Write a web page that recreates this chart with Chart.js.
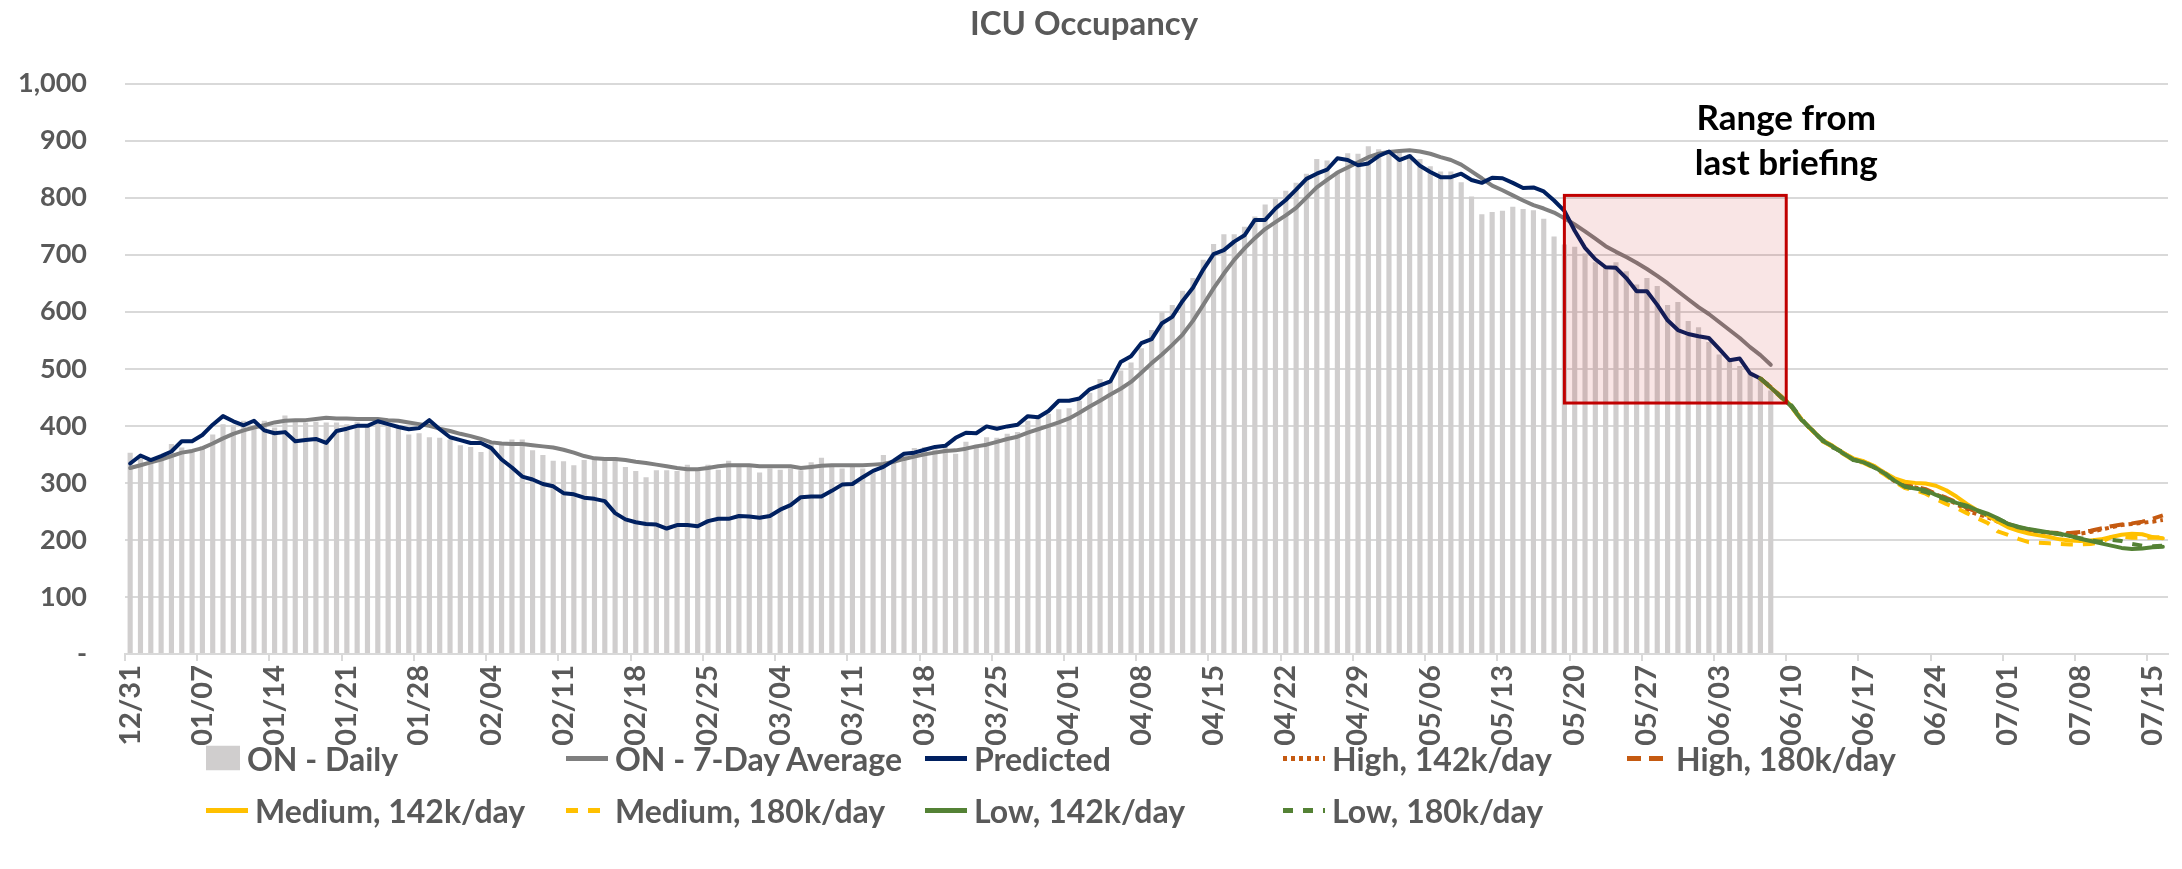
<!DOCTYPE html>
<html>
<head>
<meta charset="utf-8">
<script src="https://cdn.jsdelivr.net/npm/chart.js@4.4.0/dist/chart.umd.min.js"></script>
<style>
  html, body { margin: 0; padding: 0; background: #ffffff; }
  #wrap { position: relative; width: 2182px; height: 869px; overflow: hidden; }
  #c { position: absolute; left: 0; top: 0; }
  #legend { position: absolute; left: 0; top: 0; width: 2182px; height: 869px; pointer-events: none;
            font-family: Lato, "Open Sans", sans-serif; font-weight: 700; color: #595959; font-size: 32px; }
  .li { position: absolute; display: flex; align-items: center; white-space: nowrap; transform: translateY(-50%); }
  .li svg { flex: none; }
  .li span { margin-left: 7px; }
</style>
</head>
<body>
<div id="wrap">
  <canvas id="c" width="2182" height="869"></canvas>
  <div id="legend"></div>
</div>
<script>
// ---------- categories (daily, 12/31 .. 07/16) ----------
const monthSpans = [['12',31,31],['01',1,31],['02',1,28],['03',1,31],['04',1,30],['05',1,31],['06',1,30],['07',1,16]];
const categories = [];
monthSpans.forEach(([m, a, b]) => { for (let d = a; d <= b; d++) categories.push(m + '/' + String(d).padStart(2, '0')); });
const tickEvery = 7;

// ---------- y axis ----------
const yMin = 0, yMax = 1000, yStep = 100;

// ---------- observed series (12/31 .. 06/08) ----------
const onDaily = [
  353,347,339,344,368,362,358,364,385,403,
  402,409,397,409,397,418,408,406,407,406,
  406,403,407,403,409,402,397,385,387,380,
  379,376,366,363,354,368,370,376,376,357,
  349,339,338,331,340,342,342,345,328,321,
  310,322,322,321,332,322,332,323,339,328,
  328,318,325,323,325,322,336,344,328,325,
  330,325,318,349,337,347,361,363,359,363,
  351,372,367,380,379,386,389,409,414,421,
  429,431,444,458,482,479,497,511,536,568,
  599,612,637,659,691,719,736,736,749,767,
  788,798,812,826,842,868,865,846,878,877,
  890,885,883,881,876,868,855,846,846,827,
  802,771,775,777,784,780,778,763,732,718,
  714,702,687,680,687,671,648,659,645,612,
  617,584,573,547,525,514,505,492,484,462
];
const on7DayAvg = [
  326,331,336,341,347,353,356,361,369,378,
  386,392,397,401,406,409,410,410,412,414,
  413,413,412,412,412,410,409,406,403,400,
  395,391,386,382,377,371,369,368,368,366,
  364,362,358,353,347,343,342,342,340,337,
  335,332,329,326,324,324,326,329,331,331,
  331,329,329,329,329,326,328,330,331,331,
  331,331,332,333,337,342,346,350,353,356,
  357,360,364,367,372,377,381,388,394,400,
  406,413,423,434,444,455,465,477,493,510,
  525,542,560,584,612,641,667,691,711,729,
  745,757,769,782,800,818,831,844,853,862,
  871,877,880,882,883,881,877,871,866,858,
  846,834,821,813,804,795,787,781,774,764,
  753,741,728,715,705,696,686,675,663,650,
  636,622,608,596,582,568,554,538,524,507
];
// ---------- predicted (12/31 .. 06/07) ----------
const predicted = [
  334,348,340,347,355,373,373,384,402,417,
  408,401,409,392,387,389,373,375,377,370,
  391,395,400,400,408,403,398,394,396,410,
  394,380,375,370,370,361,341,327,311,306,
  298,294,282,280,274,272,268,247,236,231,
  228,227,220,226,226,224,233,237,237,242,
  241,239,242,253,261,275,276,276,286,297,
  298,310,321,328,339,351,353,358,363,365,
  379,388,387,399,395,399,402,417,415,426,
  444,444,448,464,471,478,512,522,545,552,
  580,591,619,642,674,701,708,723,734,761,
  761,781,796,814,833,842,849,869,866,857,
  860,873,881,866,873,856,845,836,836,842,
  831,826,835,834,826,817,818,811,795,777,
  742,712,692,678,677,659,636,636,612,585,
  568,561,557,554,535,515,518,492,483
];
// ---------- scenario projections (06/07 .. 07/16) ----------
const projectionStart = '06/07';
const high142 = [483,467,451,434,410,393,374,364,352,341,336,328,317,303,296,292,288,280,272,263,252,245,240,232,225,220,216,214,212,211,210,211,214,218,222,226,228,230,232,235];
const high180 = [483,468,452,435,411,392,375,363,353,342,337,329,318,305,297,293,289,281,274,266,256,249,243,236,228,222,218,215,213,212,212,214,216,220,224,227,229,232,237,243];
const med142  = [483,467,452,435,411,393,375,365,353,343,338,330,318,308,302,300,299,295,287,276,263,252,243,232,222,216,211,208,205,201,199,198,199,201,205,209,211,210,205,203];
const med180  = [483,466,450,433,409,392,373,363,351,340,335,326,315,302,291,287,281,272,263,256,247,238,230,215,209,202,196,195,194,193,192,192,193,196,205,206,204,204,204,205];
const low142  = [483,467,451,434,410,393,374,364,352,341,336,328,317,304,293,290,287,279,272,265,260,252,246,238,228,223,219,216,213,211,207,202,198,194,190,186,184,185,187,188];
const low180  = [483,468,450,436,412,391,376,362,354,340,337,327,318,303,294,289,284,277,270,264,258,251,244,237,229,222,218,215,212,210,206,203,199,197,200,198,193,190,189,190];

// ---------- annotation ----------
const boxFrom = '05/19', boxTo = '06/10', boxLow = 440, boxHigh = 804;
const noteLines = ['Range from', 'last briefing'];
const noteValues = [938, 859];

// ---------- build ----------
const pStart = categories.indexOf(projectionStart);
const pad = arr => Array(pStart).fill(null).concat(arr);
const FONT = 'Lato, "Open Sans", sans-serif';
const GRID = '#D9D9D9';
const TXT = '#595959';

const series = [
  { label: 'ON - Daily', kind: 'bar', data: onDaily, color: '#D0CECE' },
  { label: 'ON - 7-Day Average', kind: 'line', data: on7DayAvg, color: '#7F7F7F', width: 4, dash: [] },
  { label: 'Predicted', kind: 'line', data: predicted, color: '#002060', width: 4, dash: [] },
  { label: 'High, 142k/day', kind: 'line', data: pad(high142), color: '#C55A11', width: 4, dash: [4, 4] },
  { label: 'High, 180k/day', kind: 'line', data: pad(high180), color: '#C55A11', width: 4, dash: [14, 8] },
  { label: 'Medium, 142k/day', kind: 'line', data: pad(med142), color: '#FFC000', width: 4, dash: [] },
  { label: 'Medium, 180k/day', kind: 'line', data: pad(med180), color: '#FFC000', width: 4, dash: [12, 10] },
  { label: 'Low, 142k/day', kind: 'line', data: pad(low142), color: '#548235', width: 4, dash: [] },
  { label: 'Low, 180k/day', kind: 'line', data: pad(low180), color: '#548235', width: 4, dash: [10, 10] }
];

const datasets = series.map((s, i) => s.kind === 'bar' ? {
  type: 'bar', label: s.label, data: s.data, backgroundColor: s.color,
  barPercentage: 0.5, categoryPercentage: 1.0, order: series.length - i
} : {
  type: 'line', label: s.label, data: s.data, borderColor: s.color, backgroundColor: s.color,
  borderWidth: s.width, borderDash: s.dash, pointRadius: 0, tension: 0, spanGaps: false,
  borderJoinStyle: 'round', borderCapStyle: s.dash.length ? 'butt' : 'round', order: series.length - i
});

const rangeBox = {
  id: 'rangeBox',
  afterDatasetsDraw(chart) {
    const { ctx, scales: { x, y } } = chart;
    const step = x.getPixelForValue(1) - x.getPixelForValue(0);
    const l = x.getPixelForValue(categories.indexOf(boxFrom));
    const r = x.getPixelForValue(categories.indexOf(boxTo)) - step / 2;
    const t = y.getPixelForValue(boxHigh), b = y.getPixelForValue(boxLow);
    ctx.save();
    ctx.fillStyle = 'rgba(192,0,0,0.10)';
    ctx.fillRect(l, t, r - l, b - t);
    ctx.strokeStyle = '#C00000';
    ctx.lineWidth = 3;
    ctx.strokeRect(l, t, r - l, b - t);
    ctx.fillStyle = '#000000';
    ctx.font = 'bold 35px ' + FONT;
    ctx.textAlign = 'center';
    ctx.textBaseline = 'middle';
    noteLines.forEach((s, k) => ctx.fillText(s, r, y.getPixelForValue(noteValues[k])));
    ctx.restore();
  }
};

new Chart(document.getElementById('c'), {
  type: 'bar',
  data: { labels: categories, datasets },
  options: {
    responsive: false,
    animation: false,
    layout: { padding: { left: 0, right: 14, top: 0, bottom: 115 } },
    plugins: {
      legend: { display: false },
      tooltip: { enabled: false },
      title: {
        display: true, text: 'ICU Occupancy', color: TXT,
        font: { family: FONT, size: 33, weight: 'bold', lineHeight: 1.2 },
        padding: { top: 5, bottom: 39 }
      }
    },
    scales: {
      x: {
        offset: true,
        grid: {
          offset: true, drawOnChartArea: false, drawTicks: true, tickLength: 7, lineWidth: 2,
          color: c => (c.index % tickEvery === 0 ? GRID : 'rgba(0,0,0,0)')
        },
        border: { display: true, color: GRID, width: 2 },
        ticks: {
          autoSkip: false, minRotation: 90, maxRotation: 90, padding: 4, color: TXT,
          font: { family: FONT, size: 29, weight: 'bold' },
          callback: (v, i) => (i % tickEvery === 0 ? categories[i] : '')
        },
        afterFit(s) { s.height = 100; s.paddingLeft = 0; s.paddingRight = 0; }
      },
      y: {
        min: yMin, max: yMax,
        grid: { color: GRID, lineWidth: 2, drawTicks: false },
        border: { display: false },
        ticks: {
          stepSize: yStep, padding: 38, color: TXT,
          font: { family: FONT, size: 27, weight: 'bold' },
          callback: v => (v === 0 ? '-' : v.toLocaleString('en-US'))
        },
        afterFit(s) { s.width = 125; }
      }
    }
  },
  plugins: [rangeBox]
});

// ---------- legend (HTML) ----------
const legendCols = [206, 566, 925, 1283, 1627];
const legendRows = [758, 810];
const legendEl = document.getElementById('legend');
series.forEach((s, i) => {
  const row = i < 5 ? 0 : 1, col = i < 5 ? i : i - 5;
  const d = document.createElement('div');
  d.className = 'li';
  d.style.left = legendCols[col] + 'px';
  d.style.top = legendRows[row] + 'px';
  let svg;
  if (s.kind === 'bar') {
    svg = '<svg width="34" height="25"><rect x="0" y="0" width="34" height="25" fill="' + s.color + '"/></svg>';
  } else {
    svg = '<svg width="42" height="10"><line x1="0" y1="5" x2="42" y2="5" stroke="' + s.color +
      '" stroke-width="5"' + (s.dash.length ? ' stroke-dasharray="' + s.dash.join(' ') + '"' : '') + '/></svg>';
  }
  d.innerHTML = svg + '<span>' + s.label + '</span>';
  legendEl.appendChild(d);
});
</script>
</body>
</html>
